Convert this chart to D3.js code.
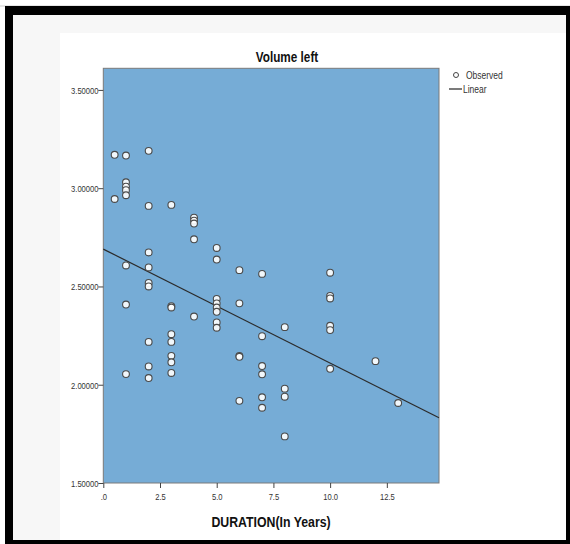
<!DOCTYPE html>
<html>
<head>
<meta charset="utf-8">
<script src="https://cdn.jsdelivr.net/npm/d3@7"></script>
<style>
  body { margin: 0; background: #fff; }
  text { font-family: "Liberation Sans", Arial, sans-serif; }
</style>
</head>
<body>
<div id="chart"></div>
<script>
// observed points, duration (years) and left volume
const duration = [
  0.5, 0.5,
  1, 1, 1, 1, 1, 1, 1, 1,
  2, 2, 2, 2, 2, 2, 2, 2, 2,
  3, 3, 3, 3, 3, 3, 3, 3,
  4, 4, 4, 4, 4,
  5, 5, 5, 5, 5, 5, 5, 5,
  6, 6, 6, 6, 6,
  7, 7, 7, 7, 7, 7,
  8, 8, 8, 8,
  10, 10, 10, 10, 10, 10,
  12, 13
]
const volume = [
  3.17, 2.945,
  3.166, 3.03, 3.008, 2.99, 2.964, 2.607, 2.408, 2.054,
  3.19, 2.91, 2.673, 2.597, 2.518, 2.50, 2.218, 2.093, 2.034,
  2.915, 2.40, 2.393, 2.257, 2.218, 2.147, 2.114, 2.06,
  2.85, 2.835, 2.82, 2.74, 2.347,
  2.696, 2.637, 2.437, 2.414, 2.393, 2.371, 2.317, 2.29,
  2.583, 2.414, 2.147, 2.142, 1.918,
  2.564, 2.247, 2.095, 2.053, 1.936, 1.883,
  2.293, 1.98, 1.939, 1.737,
  2.57, 2.452, 2.439, 2.30, 2.278, 2.081,
  2.12, 1.907
]
// linear fit
const intercept = 2.69
const slope = -0.058

const xTicks = [0, 2.5, 5, 7.5, 10, 12.5]
const yTicks = [1.5, 2.0, 2.5, 3.0, 3.5]
const xDomain = [0, 14.8]
const yDomain = [1.5, 3.61]

let width = 570, height = 544
let svg = d3.select("#chart").append("svg")
  .attr("width", width)
  .attr("height", height)

// page frame
svg.append("rect").attr("x", 0).attr("y", 0).attr("width", width).attr("height", height).attr("fill", "#fff")
svg.append("rect").attr("x", 13).attr("y", 15).attr("width", 553).attr("height", 18).attr("fill", "#f7f7f7")
svg.append("rect").attr("x", 13).attr("y", 15).attr("width", 47).attr("height", 525).attr("fill", "#f7f7f7")
svg.append("rect").attr("x", 60).attr("y", 33).attr("width", 506).attr("height", 507).attr("fill", "#fff")
svg.append("line").attr("x1", 0).attr("x2", width).attr("y1", 6).attr("y2", 6).attr("stroke", "#ccc")
svg.append("rect").attr("x", 5).attr("y", 6).attr("width", 565).attr("height", 9).attr("fill", "#000")
svg.append("rect").attr("x", 5).attr("y", 6).attr("width", 8).attr("height", 538).attr("fill", "#000")
svg.append("rect").attr("x", 566).attr("y", 6).attr("width", 4).attr("height", 538).attr("fill", "#000")
svg.append("rect").attr("x", 5).attr("y", 540).attr("width", 565).attr("height", 4).attr("fill", "#000")

let margin = {left: 103.3, top: 68.3, right: 439, bottom: 483}
let x = d3.scaleLinear().domain(xDomain).range([margin.left, margin.right])
let y = d3.scaleLinear().domain(yDomain).range([margin.bottom, margin.top])

svg.append("rect")
  .attr("x", x(xDomain[0])).attr("y", y(yDomain[1]))
  .attr("width", x(xDomain[1]) - x(xDomain[0]))
  .attr("height", y(yDomain[0]) - y(yDomain[1]))
  .attr("fill", "#76acd6")
  .attr("stroke", "#7a7a7a")
  .attr("stroke-width", 1)

// axes
let xAxis = svg.append("g")
  .attr("transform", "translate(0," + y(yDomain[0]) + ")")
  .call(d3.axisBottom(x).tickValues(xTicks).tickSize(5).tickSizeOuter(0)
    .tickFormat(function(d){ return d === 0 ? ".0" : d3.format(".1f")(d) }))
let yAxis = svg.append("g")
  .attr("transform", "translate(" + x(xDomain[0]) + ",0)")
  .call(d3.axisLeft(y).tickValues(yTicks).tickSize(5).tickSizeOuter(0).tickFormat(d3.format(".5f")))

svg.selectAll(".domain").remove()
svg.selectAll(".tick line").attr("stroke", "#444")
svg.selectAll(".tick text").attr("fill", "#333").style("font-size", "9.5px")
  .attr("transform", "scale(0.8,1)")
xAxis.selectAll(".tick text").attr("dy", "0.95em")
yAxis.selectAll(".tick text").attr("x", -6).attr("dy", "0.35em")

// fit line
let fit = xDomain.map(function(d){ return [d, intercept + slope * d] })
svg.append("path")
  .datum(fit)
  .attr("d", d3.line().x(function(d){ return x(d[0]) }).y(function(d){ return y(d[1]) }))
  .attr("stroke", "#2b2b2b")
  .attr("stroke-width", 1.2)
  .attr("fill", "none")

// observed points
let points = duration.map(function(d, i){ return {x: d, y: volume[i]} })
svg.selectAll("circle.obs")
  .data(points)
  .enter().append("circle")
  .attr("class", "obs")
  .attr("cx", function(d){ return x(d.x) })
  .attr("cy", function(d){ return y(d.y) })
  .attr("r", 3.4)
  .attr("fill", "#fff")
  .attr("fill-opacity", 0.9)
  .attr("stroke", "#4a4a4a")
  .attr("stroke-width", 1.1)

// titles, drawn a little condensed
svg.append("g").attr("transform", "translate(287,62) scale(0.84,1)")
  .append("text")
  .attr("text-anchor", "middle")
  .style("font-size", "14px").style("font-weight", "bold")
  .attr("fill", "#111")
  .text("Volume left")

svg.append("g").attr("transform", "translate(271,527) scale(0.85,1)")
  .append("text")
  .attr("text-anchor", "middle")
  .style("font-size", "14.5px").style("font-weight", "bold")
  .attr("fill", "#111")
  .text("DURATION(In Years)")

// legend
let legend = svg.append("g")
legend.append("circle").attr("cx", 456).attr("cy", 75).attr("r", 2.5)
  .attr("fill", "#fff").attr("stroke", "#444").attr("stroke-width", 1)
legend.append("g").attr("transform", "translate(466,78.5) scale(0.85,1)")
  .append("text").style("font-size", "10px").attr("fill", "#333").text("Observed")
legend.append("line").attr("x1", 449).attr("x2", 462).attr("y1", 89).attr("y2", 89)
  .attr("stroke", "#222").attr("stroke-width", 1.2)
legend.append("g").attr("transform", "translate(463,92.5) scale(0.85,1)")
  .append("text").style("font-size", "10px").attr("fill", "#333").text("Linear")
</script>
</body>
</html>
